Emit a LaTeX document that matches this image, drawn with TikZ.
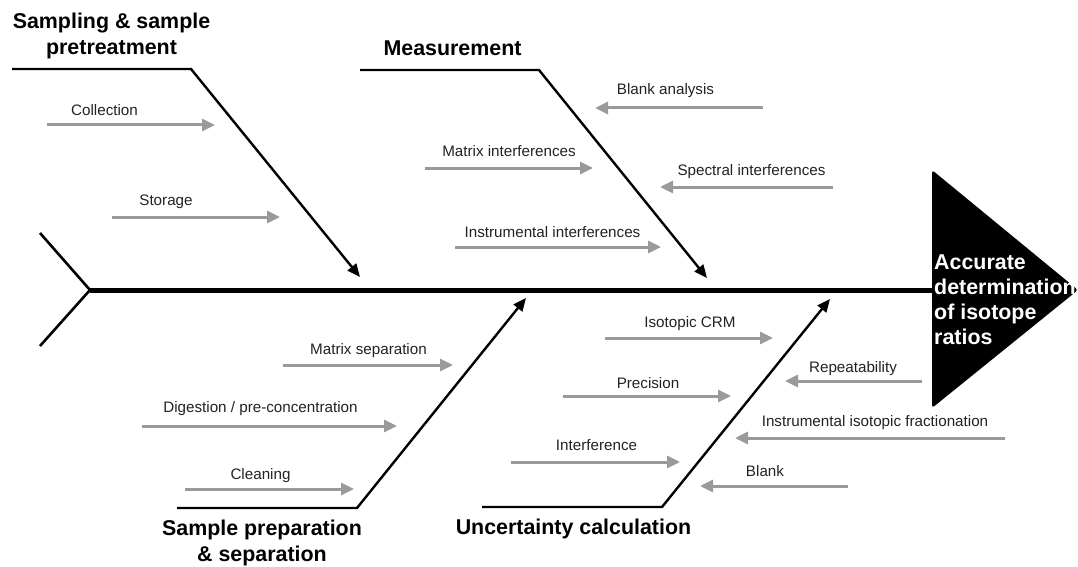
\documentclass[tikz,border=0pt]{standalone}
\usepackage{fontspec}
\setmainfont{Liberation Sans}
\usetikzlibrary{arrows.meta}
\definecolor{arrgray}{HTML}{9A9A9A}
\definecolor{txtdark}{HTML}{222222}
\tikzset{
  lbl/.style={font=\fontsize{15.2}{18}\selectfont, text=txtdark, inner sep=0pt, anchor=base},
  headlbl/.style={font=\fontsize{21.4}{26}\selectfont\bfseries, text=black, inner sep=0pt, align=center},
  cause/.style={draw=arrgray, line width=3pt, -{Triangle[length=13pt,width=12pt]}},
  branch/.style={draw=black, line width=2.4pt, line join=miter, -{Triangle[length=13pt,width=11pt]}},
  spine/.style={draw=black, line width=5pt},
  tailline/.style={draw=black, line width=2.6pt, line join=miter},
}
\begin{document}
\begin{tikzpicture}[x=1pt,y=-1pt]
\useasboundingbox (0,0) rectangle (1078,567);

% head triangle and text
\fill[rounded corners=3pt] (932,170) -- (1078,290) -- (932,408) -- cycle;
\node[font=\fontsize{21.4}{25}\selectfont\bfseries, text=white, inner sep=0pt, align=left, anchor=west] (effect) at (934,299.5) {Accurate\\determination\\of isotope\\ratios};

% spine and tail
\coordinate (tailtop) at (40,233);
\coordinate (tailmid) at (90,290);
\coordinate (tailbot) at (40,346);
\coordinate (spineend) at (932,290);
\draw[tailline] (tailtop) -- (tailmid) -- (tailbot);
\draw[spine] (tailmid) -- (spineend);

% branches
\coordinate (a0) at (12,69);  \coordinate (a1) at (191,69);  \coordinate (a2) at (360,277);
\coordinate (b0) at (360,70); \coordinate (b1) at (539,70);  \coordinate (b2) at (707,278);
\coordinate (c0) at (177,508);\coordinate (c1) at (357,508); \coordinate (c2) at (526,298);
\coordinate (d0) at (482,507);\coordinate (d1) at (662,507); \coordinate (d2) at (830,299);
\draw[branch] (a0) -- (a1) -- (a2);
\draw[branch] (b0) -- (b1) -- (b2);
\draw[branch] (c0) -- (c1) -- (c2);
\draw[branch] (d0) -- (d1) -- (d2);

% headings
\node[headlbl] (hA) at (111.5,36) {Sampling \& sample\\pretreatment};
\node[headlbl, anchor=base] (hB) at (452.5,55.7) {Measurement};
\node[headlbl] (hC) at (262,543) {Sample preparation\\\& separation};
\node[headlbl, anchor=base] (hD) at (573.5,534.7) {Uncertainty calculation};

% causes: Sampling
\coordinate (s1a) at (47,125);  \coordinate (s1b) at (215,125);
\coordinate (s2a) at (112,217); \coordinate (s2b) at (280,217);
\draw[cause] (s1a) -- (s1b);
\draw[cause] (s2a) -- (s2b);
\node[lbl] (l1) at (104.5,116) {Collection};
\node[lbl] (l2) at (166,205) {Storage};

% causes: Measurement
\coordinate (m1a) at (425,168); \coordinate (m1b) at (593,168);
\coordinate (m2a) at (455,247); \coordinate (m2b) at (661,247);
\coordinate (m3a) at (763,108); \coordinate (m3b) at (595,108);
\coordinate (m4a) at (833,187); \coordinate (m4b) at (660,187);
\draw[cause] (m1a) -- (m1b);
\draw[cause] (m2a) -- (m2b);
\draw[cause] (m3a) -- (m3b);
\draw[cause] (m4a) -- (m4b);
\node[lbl] (l3) at (509,156) {Matrix interferences};
\node[lbl] (l4) at (552.5,237) {Instrumental interferences};
\node[lbl] (l5) at (665.5,95) {Blank analysis};
\node[lbl] (l6) at (751.5,175) {Spectral interferences};

% causes: Sample preparation
\coordinate (p1a) at (283,365); \coordinate (p1b) at (453,365);
\coordinate (p2a) at (142,426); \coordinate (p2b) at (397,426);
\coordinate (p3a) at (185,489); \coordinate (p3b) at (354,489);
\draw[cause] (p1a) -- (p1b);
\draw[cause] (p2a) -- (p2b);
\draw[cause] (p3a) -- (p3b);
\node[lbl] (l7) at (368.5,354) {Matrix separation};
\node[lbl] (l8) at (260.5,412) {Digestion / pre-concentration};
\node[lbl] (l9) at (260.5,479) {Cleaning};

% causes: Uncertainty
\coordinate (u1a) at (605,338); \coordinate (u1b) at (773,338);
\coordinate (u2a) at (563,396); \coordinate (u2b) at (731,396);
\coordinate (u3a) at (511,462); \coordinate (u3b) at (680,462);
\coordinate (u4a) at (922,381); \coordinate (u4b) at (785,381);
\coordinate (u5a) at (1005,438);\coordinate (u5b) at (735,438);
\coordinate (u6a) at (848,486); \coordinate (u6b) at (700,486);
\draw[cause] (u1a) -- (u1b);
\draw[cause] (u2a) -- (u2b);
\draw[cause] (u3a) -- (u3b);
\draw[cause] (u4a) -- (u4b);
\draw[cause] (u5a) -- (u5b);
\draw[cause] (u6a) -- (u6b);
\node[lbl] (l10) at (690,327) {Isotopic CRM};
\node[lbl] (l11) at (648,388) {Precision};
\node[lbl] (l12) at (596.5,450) {Interference};
\node[lbl] (l13) at (853,372) {Repeatability};
\node[lbl] (l14) at (875,426) {Instrumental isotopic fractionation};
\node[lbl] (l15) at (765,476) {Blank};
\end{tikzpicture}
\end{document}
